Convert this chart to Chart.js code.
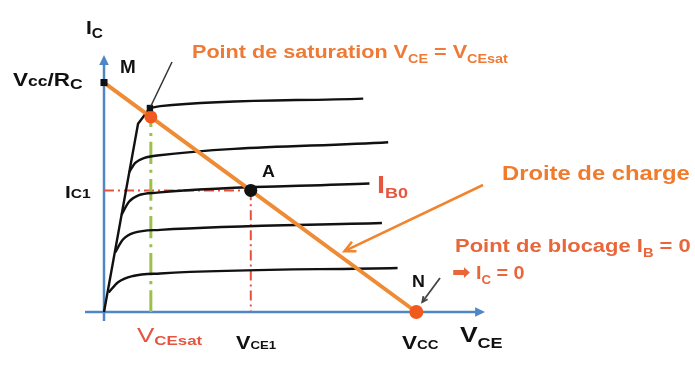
<!DOCTYPE html>
<html>
<head>
<meta charset="utf-8">
<script src="https://cdn.jsdelivr.net/npm/chart.js@4.4.0/dist/chart.umd.min.js"></script>
<style>
  html, body { margin: 0; padding: 0; background: #fff; }
  #wrap { width: 695px; height: 372px; position: relative; }
</style>
</head>
<body>
<div id="wrap"><canvas id="chart"></canvas></div>
<script>
// output characteristics Ic = f(Vce), one curve per base current (bottom to top)
const ohmicZone = [[0, 0], [1.09, 8.2], [1.47, 8.89]];
const curveIb1 = [[0.15, 0.85], [0.45, 1.3], [0.93, 1.57], [1.8, 1.68], [9.4, 1.92]];
const curveIb2 = [[0.36, 2.6], [0.6, 3.15], [0.95, 3.45], [1.8, 3.58], [8.9, 3.88]];
const curveIb0 = [[0.56, 4.23], [0.8, 4.8], [1.1, 5.08], [1.7, 5.2], [8.5, 5.6]];
const curveIb3 = [[0.81, 6.1], [1.0, 6.5], [1.3, 6.72], [1.7, 6.82], [9.1, 7.4]];
const curveIb4 = [[1.47, 8.89], [1.8, 8.97], [8.3, 9.3]];

// load line between (0, Vcc/Rc) and (Vcc, 0)
const vcc = 10;
const vccOverRc = 10;
const loadLine = [[0, vccOverRc], [vcc, 0]];

// operating points
const pointSat = [1.5, 8.5];   // M, saturation
const kneeSat = [1.47, 8.89];
const pointA = [4.7, 5.3];     // quiescent point
const pointN = [vcc, 0];       // blocking

const xMax = 12.2;
const yMax = 11.2;

const FONT = '"Liberation Sans", Arial, sans-serif';
const toXY = (pts) => pts.map(([x, y]) => ({ x, y }));

function curve(pts, extra) {
  return Object.assign({
    data: toXY(pts),
    showLine: true,
    borderColor: "#111",
    borderWidth: 2.4,
    pointRadius: 0,
    cubicInterpolationMode: "monotone",
    clip: false,
    order: 3,
  }, extra);
}

function dot(pt, color, style, r) {
  return {
    data: toXY([pt]),
    showLine: false,
    pointStyle: style,
    pointRadius: r,
    backgroundColor: color,
    borderColor: color,
    borderWidth: 0,
    clip: false,
    order: 0,
  };
}

// text with sub parts, left aligned on a baseline, a bit stretched like the original
function rich(ctx, x, y, parts, color, sx = 1.2) {
  ctx.save();
  ctx.translate(x, y);
  ctx.scale(sx, 1);
  ctx.fillStyle = color;
  ctx.textAlign = "left";
  ctx.textBaseline = "alphabetic";
  let cx = 0;
  for (const p of parts) {
    ctx.font = `${p.w || "bold"} ${p.s}px ${p.f || FONT}`;
    ctx.fillText(p.t, cx, p.dy || 0);
    cx += ctx.measureText(p.t).width;
  }
  ctx.restore();
}

function arrowHead(ctx, x1, y1, x2, y2, len, filled) {
  const a = Math.atan2(y2 - y1, x2 - x1);
  ctx.beginPath();
  ctx.moveTo(x2 - len * Math.cos(a - 0.45), y2 - len * Math.sin(a - 0.45));
  ctx.lineTo(x2, y2);
  ctx.lineTo(x2 - len * Math.cos(a + 0.45), y2 - len * Math.sin(a + 0.45));
  if (filled) { ctx.closePath(); ctx.fill(); } else { ctx.stroke(); }
}

const axesPlugin = {
  id: "axes",
  beforeDatasetsDraw(chart) {
    const { ctx, chartArea, scales: { x, y } } = chart;
    const x0 = x.getPixelForValue(0);
    const y0 = y.getPixelForValue(0);
    ctx.save();
    ctx.strokeStyle = "#4f86c6";
    ctx.fillStyle = "#4f86c6";
    ctx.lineWidth = 2.5;
    ctx.beginPath();
    ctx.moveTo(x0, y0 + 9);
    ctx.lineTo(x0, chartArea.top + 6);
    ctx.moveTo(x0 - 19, y0);
    ctx.lineTo(chartArea.right - 6, y0);
    ctx.stroke();
    arrowHead(ctx, x0, y0, x0, chartArea.top, 11, true);
    arrowHead(ctx, x0, y0, chartArea.right, y0, 11, true);
    ctx.restore();
  },
};

const labelsPlugin = {
  id: "labels",
  afterDatasetsDraw(chart) {
    const { ctx, scales: { x, y } } = chart;
    const px = (v) => x.getPixelForValue(v);
    const py = (v) => y.getPixelForValue(v);
    ctx.save();

    // pointer from saturation label to M
    ctx.strokeStyle = "#333";
    ctx.lineWidth = 1.5;
    ctx.beginPath();
    ctx.moveTo(172, 62);
    ctx.lineTo(px(kneeSat[0]) + 1, py(kneeSat[1]) - 2);
    ctx.stroke();

    // pointer to N
    ctx.strokeStyle = "#444";
    ctx.lineWidth = 1.8;
    ctx.beginPath();
    ctx.moveTo(440, 278);
    ctx.lineTo(px(vcc) + 6, py(0) - 10);
    ctx.stroke();
    arrowHead(ctx, 440, 278, px(vcc) + 6, py(0) - 10, 6, false);

    // arrow "Droite de charge"
    ctx.strokeStyle = "#f0842f";
    ctx.lineWidth = 2.5;
    const tx = px(7.7), ty = py(2.65);
    ctx.beginPath();
    ctx.moveTo(483, 185);
    ctx.lineTo(tx, ty);
    ctx.stroke();
    arrowHead(ctx, 483, 185, tx, ty, 12, false);

    const black = "#111";
    const orange = "#ee7a35";
    const red = "#e5553f";

    rich(ctx, 86, 34, [{ t: "I", s: 19 }, { t: "C", s: 14, dy: 4 }], black, 1.1);
    rich(ctx, 120, 73, [{ t: "M", s: 18 }], black, 1.05);
    rich(ctx, 13, 86, [
      { t: "V", s: 18 }, { t: "cc", s: 14 }, { t: "/R", s: 18 }, { t: "C", s: 14, dy: 3 },
    ], black, 1.25);
    rich(ctx, 65, 198, [{ t: "I", s: 16 }, { t: "C1", s: 12 }], black, 1.3);
    rich(ctx, 192, 58, [
      { t: "Point de saturation V", s: 18 }, { t: "CE", s: 12, dy: 5 },
      { t: " = V", s: 18 }, { t: "CEsat", s: 12, dy: 5 },
    ], orange);
    rich(ctx, 262, 177, [{ t: "A", s: 17 }], black, 1.05);
    rich(ctx, 377, 193, [{ t: "I", s: 24 }, { t: "B0", s: 15, dy: 5 }], red);
    rich(ctx, 502, 180, [{ t: "Droite de charge", s: 20 }], "#f07b2c", 1.19);
    rich(ctx, 455, 252, [
      { t: "Point de blocage I", s: 18 }, { t: "B", s: 12, dy: 5 }, { t: " = 0", s: 18 },
    ], "#e8663a", 1.22);
    rich(ctx, 452, 279, [
      { t: "➡", s: 20, f: '"DejaVu Sans", sans-serif' }, { t: " I", s: 18 },
      { t: "C", s: 12, dy: 5 }, { t: " = 0", s: 18 },
    ], "#e8663a", 1.1);
    rich(ctx, 412, 287, [{ t: "N", s: 17 }], black, 1.05);

    // tick labels under the Vce axis
    rich(ctx, 137, 342, [{ t: "V", s: 20, w: "normal" }, { t: "CEsat", s: 13, dy: 3 }], red, 1.3);
    rich(ctx, 236, 349, [{ t: "V", s: 18 }, { t: "CE1", s: 11 }], black);
    rich(ctx, 402, 349, [{ t: "V", s: 18 }, { t: "CC", s: 12 }], black, 1.25);
    rich(ctx, 460, 342, [{ t: "V", s: 22 }, { t: "CE", s: 15, dy: 6 }], black);

    ctx.restore();
  },
};

const ctx = document.getElementById("chart").getContext("2d");

const chart = new Chart(ctx, {
  type: "scatter",
  data: {
    datasets: [
      dot([0, vccOverRc], "#111", "rect", 5),
      dot(kneeSat, "#111", "rect", 4.5),
      dot(pointSat, "#f05a1e", "circle", 6.5),
      dot(pointA, "#111", "circle", 6.5),
      dot(pointN, "#f05a1e", "circle", 7),
      curve(loadLine, { borderColor: "#ef8a35", borderWidth: 4, order: 2 }),
      curve(ohmicZone, { cubicInterpolationMode: "default", tension: 0 }),
      curve(curveIb1),
      curve(curveIb2),
      curve(curveIb0),
      curve(curveIb3),
      curve(curveIb4),
      // guides for Vce sat, Ic1, Vce1
      curve([[pointSat[0], 0], [pointSat[0], 8.3]], {
        borderColor: "#9cc04b", borderWidth: 3, borderDash: [22, 6, 3, 6], order: 4,
      }),
      curve([[0, pointA[1]], pointA], {
        borderColor: "#e8503e", borderWidth: 2, borderDash: [10, 4, 2, 4], order: 4,
      }),
      curve([pointA, [pointA[0], 0]], {
        borderColor: "#e8503e", borderWidth: 2, borderDash: [10, 4, 2, 4], order: 4,
      }),
    ],
  },
  options: {
    responsive: true,
    maintainAspectRatio: false,
    animation: false,
    layout: { padding: { left: 104, right: 210, top: 55, bottom: 60 } },
    scales: {
      x: { type: "linear", display: false, min: 0, max: xMax },
      y: { type: "linear", display: false, min: 0, max: yMax },
    },
    plugins: {
      legend: { display: false },
      tooltip: { enabled: false },
    },
  },
  plugins: [axesPlugin, labelsPlugin],
});
</script>
</body>
</html>
